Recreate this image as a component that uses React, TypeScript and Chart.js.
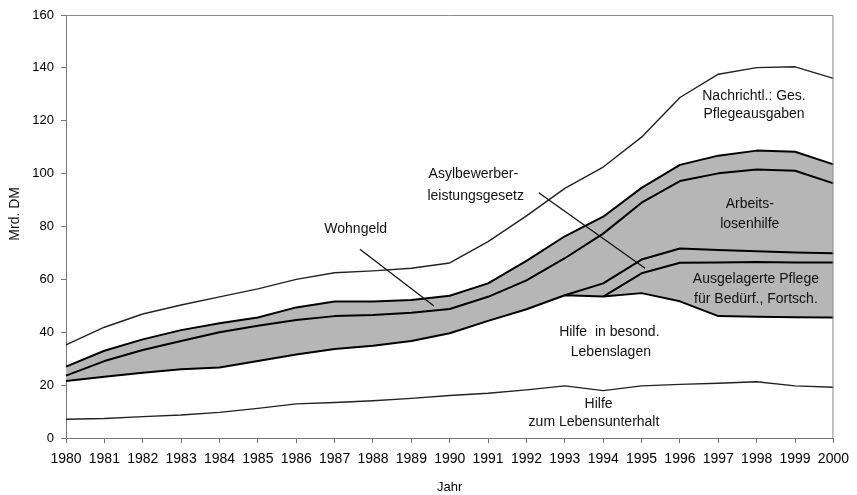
import React, { useEffect, useRef } from "react";
import { Chart, registerables } from "chart.js";

Chart.register(...registerables);

const years = ["1980","1981","1982","1983","1984","1985","1986","1987","1988","1989","1990","1991","1992","1993","1994","1995","1996","1997","1998","1999","2000"];

// upper boundary of each (stacked) area, in Mrd. DM
const hilfeLebensunterhalt = [7.1, 7.4, 8.1, 8.7, 9.7, 11.2, 12.9, 13.4, 14.1, 15.0, 16.1, 16.9, 18.2, 19.7, 17.9, 19.7, 20.3, 20.7, 21.3, 19.7, 19.2];
const hilfeBesLebenslagen = [21.6, 23.2, 24.7, 26.0, 26.7, 29.1, 31.6, 33.7, 34.9, 36.7, 39.6, 44.3, 48.7, 54.0, 53.5, 54.8, 51.7, 46.1, 45.9, 45.7, 45.6];
const ausgelagertePflege = [null, null, null, null, null, null, null, null, null, null, null, null, null, null, 53.5, 62.3, 66.3, 66.4, 66.6, 66.4, 66.4];
const asylbewerber = [null, null, null, null, null, null, null, null, null, null, null, null, null, 54.0, 58.5, 67.5, 71.7, 71.1, 70.6, 70.2, 69.9];
const arbeitslosenhilfe = [23.6, 29.1, 33.3, 36.7, 40.0, 42.5, 44.6, 46.1, 46.5, 47.4, 48.8, 53.4, 59.6, 68.0, 77.3, 89.0, 97.2, 100.1, 101.6, 101.1, 96.3];
const wohngeld = [27.0, 33.0, 37.3, 40.8, 43.4, 45.6, 49.4, 51.6, 51.6, 52.2, 53.8, 58.5, 67.0, 76.3, 83.7, 94.6, 103.3, 106.8, 108.7, 108.3, 103.5];
const gesPflegeausgaben = [35.2, 41.9, 46.9, 50.3, 53.4, 56.4, 60.0, 62.5, 63.2, 64.2, 66.2, 74.3, 84.0, 94.4, 102.5, 113.8, 128.8, 137.6, 140.1, 140.4, 136.0];

const yTicks = [0, 20, 40, 60, 80, 100, 120, 140, 160];

// in-chart labels (x = category index, y = data value)
const textLabels = [
  { text: "Wohngeld", x: 7.55, y: 79, align: "center" },
  { text: "Asylbewerber-", x: 9.45, y: 99.8, align: "left" },
  { text: "leistungsgesetz", x: 9.42, y: 91.6, align: "left" },
  { text: "Nachrichtl.: Ges.", x: 17.93, y: 129.3, align: "center" },
  { text: "Pflegeausgaben", x: 17.93, y: 122.5, align: "center" },
  { text: "Arbeits-", x: 17.82, y: 88.5, align: "center" },
  { text: "losenhilfe", x: 17.82, y: 81, align: "center" },
  { text: "Ausgelagerte Pflege", x: 17.98, y: 60.1, align: "center" },
  { text: "für Bedürf., Fortsch.", x: 17.98, y: 52.6, align: "center" },
  { text: "Hilfe  in besond.", x: 14.16, y: 39.9, align: "center" },
  { text: "Lebenslagen", x: 14.2, y: 32.4, align: "center" },
  { text: "Hilfe", x: 13.88, y: 12.9, align: "center" },
  { text: "zum Lebensunterhalt", x: 13.76, y: 5.9, align: "center" },
];

const pointerLines = [
  { x1: 7.66, y1: 71.4, x2: 9.59, y2: 49.9 },
  { x1: 12.32, y1: 92.8, x2: 15.09, y2: 64.2 },
];

const FONT = "'Liberation Sans', Arial, Helvetica, sans-serif";

const annotationPlugin = {
  id: "annots",
  afterDatasetsDraw(chart: any) {
    const { ctx, chartArea } = chart;
    const xs = chart.scales.x;
    const ys = chart.scales.y;
    ctx.save();
    // frame
    ctx.strokeStyle = "#8a8a8a";
    ctx.lineWidth = 1;
    ctx.beginPath();
    ctx.moveTo(chartArea.left, chartArea.top + 0.5);
    ctx.lineTo(chartArea.right - 0.5, chartArea.top + 0.5);
    ctx.lineTo(chartArea.right - 0.5, chartArea.bottom);
    ctx.stroke();
    // pointer lines
    ctx.strokeStyle = "#111";
    ctx.lineWidth = 1.3;
    for (const p of pointerLines) {
      ctx.beginPath();
      ctx.moveTo(xs.getPixelForValue(p.x1), ys.getPixelForValue(p.y1));
      ctx.lineTo(xs.getPixelForValue(p.x2), ys.getPixelForValue(p.y2));
      ctx.stroke();
    }
    // labels
    ctx.fillStyle = "#111";
    ctx.font = `14px ${FONT}`;
    ctx.textBaseline = "middle";
    for (const l of textLabels) {
      ctx.textAlign = l.align as CanvasTextAlign;
      ctx.fillText(l.text, xs.getPixelForValue(l.x), ys.getPixelForValue(l.y));
    }
    // y axis title
    ctx.save();
    ctx.translate(15, chartArea.top + chartArea.height * 0.47);
    ctx.rotate(-Math.PI / 2);
    ctx.textAlign = "center";
    ctx.font = `14px ${FONT}`;
    ctx.fillText("Mrd. DM", 0, 0);
    ctx.restore();
    ctx.restore();
  },
};

export default function App() {
  const ref = useRef<HTMLCanvasElement>(null);

  useEffect(() => {
    document.body.style.margin = "0";
    const canvas = ref.current;
    if (!canvas) return;
    const thin = { borderColor: "#222", borderWidth: 1.4 };
    const thick = { borderColor: "#000", borderWidth: 2 };
    const chart = new Chart(canvas, {
      type: "line",
      data: {
        labels: years,
        datasets: [
          { label: "Hilfe zum Lebensunterhalt", data: hilfeLebensunterhalt, fill: false, ...thin },
          { label: "Hilfe in besond. Lebenslagen", data: hilfeBesLebenslagen, fill: false, ...thick },
          { label: "Ausgelagerte Pflege", data: ausgelagertePflege as any, fill: false, ...thick },
          { label: "Asylbewerberleistungsgesetz", data: asylbewerber as any, fill: false, ...thick },
          { label: "Arbeitslosenhilfe", data: arbeitslosenhilfe, fill: false, ...thick },
          { label: "Wohngeld", data: wohngeld, fill: 1, backgroundColor: "#b6b6b6", ...thick },
          { label: "Nachrichtl.: Ges. Pflegeausgaben", data: gesPflegeausgaben, fill: false, ...thin },
        ],
      },
      options: {
        responsive: false,
        animation: false,
        layout: { padding: { top: 15, right: 19, left: 0, bottom: 0 } },
        elements: { point: { radius: 0, hoverRadius: 0 }, line: { tension: 0, borderJoinStyle: "round" } },
        plugins: {
          legend: { display: false },
          tooltip: { enabled: false },
          filler: { drawTime: "beforeDatasetsDraw" },
        },
        scales: {
          x: {
            type: "category",
            offset: false,
            grid: { display: true, drawOnChartArea: false, drawTicks: true, tickLength: 5, color: "#777" },
            border: { display: true, color: "#777", width: 1 },
            ticks: { color: "#000", font: { size: 14, family: FONT }, padding: 8, maxRotation: 0, autoSkip: false },
            title: { display: true, text: "Jahr", color: "#000", font: { size: 13, family: FONT }, padding: { top: 0, bottom: 0 } },
            afterFit(scale: any) { scale.height = 57; },
          },
          y: {
            min: 0,
            max: 160,
            afterBuildTicks(scale: any) { scale.ticks = yTicks.map((v) => ({ value: v })); },
            grid: { display: true, drawOnChartArea: false, drawTicks: true, tickLength: 5, color: "#777" },
            border: { display: true, color: "#777", width: 1 },
            ticks: { color: "#000", font: { size: 13, family: FONT }, padding: 7 },
            afterFit(scale: any) { scale.width = 66; },
          },
        },
      },
      plugins: [annotationPlugin],
    });
    return () => chart.destroy();
  }, []);

  return (
    <div style={{ width: 857, height: 495 }}>
      <canvas ref={ref} width={857} height={495} />
    </div>
  );
}
